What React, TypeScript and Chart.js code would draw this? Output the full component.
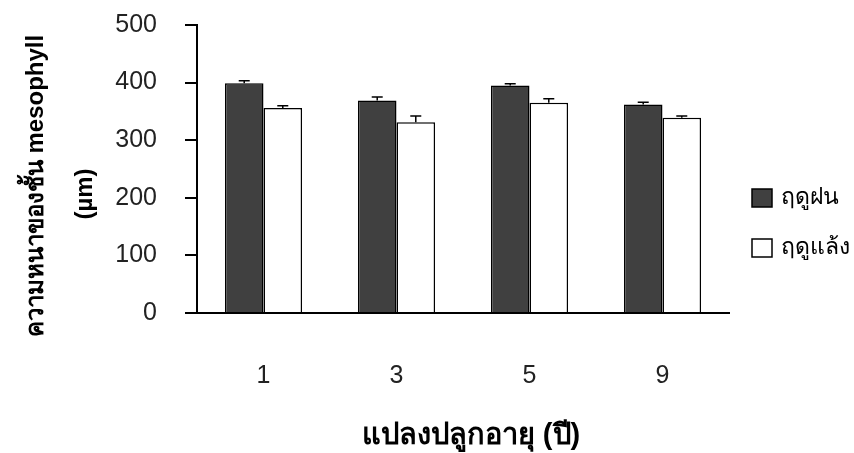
import React, { useEffect, useRef } from "react";
import { Chart, registerables } from "chart.js";

Chart.register(...registerables);

const categories = ["1", "3", "5", "9"];
const rainyLabel = "ฤดูฝน";
const dryLabel = "ฤดูแล้ง";
const rainyValues = [399, 369, 395, 362];
const rainyErrors = [4, 6, 3, 4];
const dryValues = [356, 331, 365, 339];
const dryErrors = [4, 11, 7, 3];
const yTicks = [0, 100, 200, 300, 400, 500];
const yTitleLines = ["ความหนาของชั้น mesophyll", "(µm)"];
const xTitle = "แปลงปลูกอายุ (ปี)";

const FONT = "'Liberation Sans', Arial, 'Noto Sans', sans-serif";

const errorBarPlugin = {
  id: "errorBars",
  afterDatasetsDraw(chart: any) {
    const ctx = chart.ctx;
    const yScale = chart.scales.y;
    chart.data.datasets.forEach((ds: any, di: number) => {
      const meta = chart.getDatasetMeta(di);
      meta.data.forEach((bar: any, i: number) => {
        const v = ds.data[i];
        const e = ds.errors[i];
        const yTop = yScale.getPixelForValue(v + e);
        const yBase = yScale.getPixelForValue(v);
        ctx.save();
        ctx.strokeStyle = "#000";
        ctx.lineWidth = 1.5;
        ctx.beginPath();
        ctx.moveTo(bar.x, yBase);
        ctx.lineTo(bar.x, yTop);
        ctx.moveTo(bar.x - 5.5, yTop);
        ctx.lineTo(bar.x + 5.5, yTop);
        ctx.stroke();
        ctx.restore();
      });
    });
  },
};

const textPlugin = {
  id: "texts",
  afterDraw(chart: any) {
    const ctx = chart.ctx;
    ctx.save();
    ctx.fillStyle = "#000";
    ctx.font = `bold 24px ${FONT}`;
    ctx.textAlign = "center";
    ctx.textBaseline = "middle";
    ctx.save();
    ctx.translate(36, 186);
    ctx.rotate(-Math.PI / 2);
    ctx.fillText(yTitleLines[0], 0, 0);
    ctx.restore();
    ctx.save();
    ctx.translate(85, 194);
    ctx.rotate(-Math.PI / 2);
    ctx.fillText(yTitleLines[1], 0, 0);
    ctx.restore();
    ctx.font = `bold 29px ${FONT}`;
    ctx.fillText(xTitle, 471, 436);
    const items = [
      { label: rainyLabel, fill: "#404040", y: 198 },
      { label: dryLabel, fill: "#ffffff", y: 248 },
    ];
    items.forEach((it) => {
      ctx.fillStyle = it.fill;
      ctx.fillRect(752, it.y - 9, 20, 18);
      ctx.strokeStyle = "#000";
      ctx.lineWidth = 1.5;
      ctx.strokeRect(752, it.y - 9, 20, 18);
      ctx.fillStyle = "#000";
      ctx.font = `23px ${FONT}`;
      ctx.textAlign = "left";
      ctx.textBaseline = "middle";
      ctx.fillText(it.label, 781, it.y);
    });
    ctx.restore();
  },
};

export default function App() {
  const ref = useRef<HTMLCanvasElement>(null);
  useEffect(() => {
    if (!ref.current) return;
    const chart = new Chart(ref.current, {
      type: "bar",
      data: {
        labels: categories,
        datasets: [
          {
            label: rainyLabel,
            data: rainyValues,
            errors: rainyErrors,
            backgroundColor: "#404040",
            borderColor: "#000",
            borderWidth: 1.5,
            categoryPercentage: 0.58,
            barPercentage: 1.0,
          } as any,
          {
            label: dryLabel,
            data: dryValues,
            errors: dryErrors,
            backgroundColor: "#ffffff",
            borderColor: "#000",
            borderWidth: 1.5,
            categoryPercentage: 0.58,
            barPercentage: 1.0,
          } as any,
        ],
      },
      options: {
        responsive: false,
        animation: false,
        devicePixelRatio: 1,
        layout: { padding: { top: 25, right: 125, left: 0, bottom: 0 } },
        plugins: {
          legend: { display: false },
          title: { display: false },
          tooltip: { enabled: false },
        },
        scales: {
          x: {
            grid: { display: false, drawTicks: false },
            border: { display: true, color: "#000", width: 2 },
            ticks: {
              color: "#222",
              font: { family: FONT, size: 25 },
              padding: 48,
            },
            afterFit(scale: any) {
              scale.height = 140;
              scale.paddingLeft = 0;
              scale.paddingRight = 0;
            },
          },
          y: {
            min: 0,
            max: 500,
            afterBuildTicks(scale: any) {
              scale.ticks = yTicks.map((v) => ({ value: v }));
            },
            grid: {
              display: true,
              drawOnChartArea: false,
              drawTicks: true,
              tickLength: 12,
              color: "#000",
              lineWidth: 2,
            },
            border: { display: true, color: "#000", width: 2 },
            ticks: {
              color: "#222",
              font: { family: FONT, size: 25 },
              padding: 28,
            },
            afterFit(scale: any) {
              scale.width = 197;
              scale.paddingTop = 0;
              scale.paddingBottom = 0;
            },
          },
        },
      },
      plugins: [errorBarPlugin, textPlugin],
    });
    return () => chart.destroy();
  }, []);
  return (
    <div style={{ position: "fixed", left: 0, top: 0, width: 854, height: 453, background: "#fff" }}>
      <canvas ref={ref} width={854} height={453} style={{ display: "block" }} />
    </div>
  );
}
